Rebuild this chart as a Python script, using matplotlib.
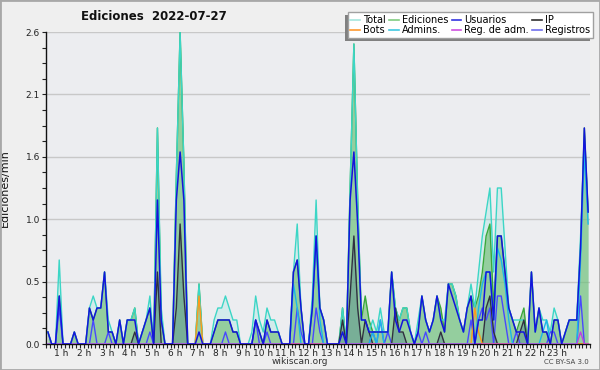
import numpy as np
import matplotlib
matplotlib.use('Agg')
import matplotlib.pyplot as plt
from matplotlib.lines import Line2D
from matplotlib.patches import Rectangle

# 10-minute bins, edits per minute
total = [0.1, 0, 0, 0.7, 0, 0, 0, 0.1, 0, 0, 0, 0.3,
         0.4, 0.3, 0.3, 0.6, 0.2, 0.1, 0, 0.2, 0, 0.2, 0.2, 0.3,
         0, 0.1, 0.2, 0.4, 0, 1.8, 0.3, 0, 0, 0, 1.4, 2.6,
         1.5, 0, 0, 0, 0.5, 0, 0, 0, 0.2, 0.3, 0.3, 0.4,
         0.3, 0.2, 0.2, 0, 0, 0, 0.1, 0.4, 0.2, 0.1, 0.3, 0.2,
         0.2, 0.1, 0, 0, 0, 0.6, 1.0, 0.3, 0, 0, 0.4, 1.2,
         0.3, 0.2, 0, 0, 0, 0, 0.3, 0, 1.3, 2.5, 1.2, 0.2,
         0.2, 0.1, 0.2, 0.1, 0.3, 0.1, 0.1, 0.6, 0.3, 0.2, 0.3, 0.3,
         0.1, 0, 0.2, 0.4, 0.2, 0.1, 0.2, 0.4, 0.2, 0.2, 0.5, 0.5,
         0.4, 0.2, 0.1, 0.3, 0.5, 0.3, 0.6, 0.9, 1.1, 1.3, 0.6, 1.3,
         1.3, 0.8, 0.3, 0.2, 0.2, 0.2, 0.2, 0, 0.6, 0.1, 0.3, 0.2,
         0.2, 0.1, 0.3, 0.2, 0, 0.1, 0.2, 0.2, 0.2, 0.9, 1.7, 1.1]

ediciones = [0.1, 0, 0, 0.4, 0, 0, 0, 0.1, 0, 0, 0, 0.3,
             0.2, 0.3, 0.3, 0.6, 0.1, 0.1, 0, 0.2, 0, 0.2, 0.2, 0.3,
             0, 0.1, 0.2, 0.3, 0, 1.8, 0.2, 0, 0, 0, 1.4, 2.6,
             1.5, 0, 0, 0, 0.5, 0, 0, 0, 0.1, 0.2, 0.2, 0.2,
             0.2, 0.1, 0.1, 0, 0, 0, 0, 0.2, 0.1, 0, 0.2, 0.1,
             0.1, 0.1, 0, 0, 0, 0.6, 0.7, 0.3, 0, 0, 0.3, 0.9,
             0.3, 0.2, 0, 0, 0, 0, 0.3, 0, 1.3, 2.5, 1.2, 0.2,
             0.4, 0.2, 0.1, 0.1, 0.1, 0.1, 0.1, 0.6, 0.3, 0.2, 0.3, 0.3,
             0.1, 0, 0.1, 0.4, 0.2, 0.1, 0.2, 0.4, 0.3, 0.1, 0.5, 0.5,
             0.4, 0.2, 0.1, 0.3, 0.4, 0.3, 0.4, 0.6, 0.9, 1.0, 0.3, 0.9,
             0.9, 0.6, 0.3, 0.2, 0.1, 0.2, 0.3, 0, 0.6, 0.1, 0.3, 0.1,
             0.1, 0, 0.2, 0.2, 0, 0.1, 0.2, 0.2, 0.2, 0.8, 1.8, 1.1]

usuarios = [0.1, 0, 0, 0.4, 0, 0, 0, 0.1, 0, 0, 0, 0.3,
            0.2, 0.3, 0.3, 0.6, 0.1, 0.1, 0, 0.2, 0, 0.2, 0.2, 0.2,
            0, 0.1, 0.2, 0.3, 0, 1.2, 0.2, 0, 0, 0, 1.2, 1.6,
            1.2, 0, 0, 0, 0.1, 0, 0, 0, 0.1, 0.2, 0.2, 0.2,
            0.2, 0.1, 0.1, 0, 0, 0, 0, 0.2, 0.1, 0, 0.2, 0.1,
            0.1, 0.1, 0, 0, 0, 0.6, 0.7, 0.3, 0, 0, 0.3, 0.9,
            0.3, 0.2, 0, 0, 0, 0, 0.1, 0, 1.2, 1.6, 1.0, 0.2,
            0.2, 0.1, 0.1, 0.1, 0.1, 0.1, 0.1, 0.6, 0.2, 0.1, 0.2, 0.2,
            0.1, 0, 0.1, 0.4, 0.2, 0.1, 0.2, 0.4, 0.2, 0.1, 0.5, 0.4,
            0.3, 0.2, 0.1, 0.3, 0.4, 0, 0.2, 0.2, 0.6, 0.6, 0.2, 0.9,
            0.9, 0.6, 0.3, 0.2, 0.1, 0.1, 0.1, 0, 0.6, 0.1, 0.3, 0.1,
            0.1, 0, 0.2, 0.2, 0, 0.1, 0.2, 0.2, 0.2, 0.8, 1.8, 1.1]

# sparse series: bin index -> value
ip_idx = [23, 29, 34, 35, 36, 78, 80, 81, 82, 84, 85, 92, 93, 94, 104, 116, 117, 118, 125, 126]
ip_val = [0.1, 0.6, 0.3, 1.0, 0.4, 0.2, 0.4, 0.9, 0.3, 0.2, 0.1, 0.3, 0.1, 0.1, 0.1, 0.3, 0.4, 0.1, 0.1, 0.2]

reg_idx = [3, 12, 16, 27, 47, 55, 58, 66, 67, 71, 72, 86, 88, 90, 98, 100, 112, 114, 115, 116,
           117, 119, 120, 121, 124, 133, 134, 141]
reg_val = [0.3, 0.2, 0.1, 0.1, 0.1, 0.2, 0.1, 0.3, 0.1, 0.3, 0.1, 0.1, 0.2, 0.1, 0.1, 0.1, 0.2, 0.2, 0.3, 0.2,
           0.3, 0.4, 0.4, 0.2, 0.1, 0.1, 0.1, 0.4]

adm_idx = [65, 66, 70, 71, 72, 86, 88, 114, 115, 116, 117, 118, 119, 120, 121, 122, 131, 132, 141, 142, 143]
adm_val = [0.5, 0.3, 0.3, 0.9, 0.2, 0.1, 0.2, 0.3, 0.5, 0.6, 0.6, 0.2, 0.8, 0.7, 0.5, 0.2, 0.1, 0.2, 0.7, 1.6, 1.0]

bots_idx = [40, 113, 114]
bots_val = [0.4, 0.3, 0.1]

regadm_idx = [141]
regadm_val = [0.1]

hour_labels = ['%d h' % h for h in range(1, 24)]

n = len(total)
x = np.arange(n) + 0.5


def sparse(idx, val):
    s = np.zeros(n)
    s[idx] = val
    return s


ip = sparse(ip_idx, ip_val)
registros = sparse(reg_idx, reg_val)
admins = sparse(adm_idx, adm_val)
bots = sparse(bots_idx, bots_val)
regadm = sparse(regadm_idx, regadm_val)

plt.rcParams['font.family'] = 'DejaVu Sans'

fig = plt.figure(figsize=(6, 3.7), dpi=100, facecolor='#efefef')
ax = fig.add_axes([46 / 600, 26 / 370, 544 / 600, 312 / 370])
ax.set_facecolor('#ecedf0')

# fills
ax.fill_between(x, 0, total, color='#40e0d0', alpha=0.15, lw=0, zorder=1)
ax.fill_between(x, 0, ediciones, color='#6cbc6c', alpha=0.6, lw=0, zorder=2)
ax.fill_between(x, 0, ip, color='#3a6a8a', alpha=0.3, lw=0, zorder=2)

# lines
ax.plot(x, ediciones, color='#3aa83a', lw=1.0, zorder=3)
ax.plot(x, total, color='#3cd6c6', lw=1.0, zorder=4)
ax.plot(x, registros, color='#4848ff', lw=1.0, zorder=4)
ax.plot(x, ip, color='#303040', lw=1.0, zorder=4)
ax.plot(x, bots, color='#ff9a1a', lw=1.0, zorder=4)
ax.plot(x, admins, color='#1ab8e8', lw=1.0, zorder=5)
ax.plot(x, regadm, color='#c040e0', lw=1.0, zorder=5)
ax.plot(x, usuarios, color='#1414dc', lw=1.1, zorder=6)

ax.set_xlim(0, n)
ax.set_ylim(0, 2.6)

yt = np.linspace(0, 2.6, 6)
ax.set_yticks(yt)
ax.set_yticklabels(['%.1f' % v for v in yt])
ax.set_yticks(np.linspace(0, 2.6, 21), minor=True)
ax.yaxis.grid(True, color='#c8c8c8', lw=1)
ax.set_axisbelow(True)

ax.set_xticks(np.arange(6, n, 6))
ax.set_xticklabels(hour_labels, ha='right')
ax.set_xticks(np.arange(0, n + 1, 1), minor=True)

ax.tick_params(axis='both', which='both', direction='out', length=2.8, width=0.8,
               colors='#222222', labelsize=6.5)
ax.tick_params(axis='x', which='major', pad=0.5)
ax.tick_params(axis='y', which='major', pad=1.5)

for s in ['top', 'right']:
    ax.spines[s].set_visible(False)
for s in ['left', 'bottom']:
    ax.spines[s].set_color('#111111')
    ax.spines[s].set_linewidth(1)

ax.set_ylabel('Ediciones/min', fontsize=8, color='#111111')
ax.yaxis.set_label_coords(-0.066, 0.5)

fig.text(154 / 600, 1 - 16 / 370, 'Ediciones  2022-07-27', ha='center', va='center',
         fontsize=8.5, fontweight='bold', color='#111111')
fig.text(0.5, 1 - 362 / 370, 'wikiscan.org', ha='center', va='center', fontsize=6.5, color='#333333')
fig.text(589 / 600, 1 - 362 / 370, 'CC BY-SA 3.0', ha='right', va='center', fontsize=5, color='#444444')

handles = [
    Line2D([], [], color='#a6e6de', lw=1.2),
    Line2D([], [], color='#ff9a30', lw=1.2),
    Line2D([], [], color='#80cc80', lw=1.2),
    Line2D([], [], color='#40c8e0', lw=1.2),
    Line2D([], [], color='#3434e0', lw=1.2),
    Line2D([], [], color='#d050e0', lw=1.2),
    Line2D([], [], color='#303030', lw=1.2),
    Line2D([], [], color='#7070ee', lw=1.2),
]
labels = ['Total', 'Bots', 'Ediciones', 'Admins.', 'Usuarios', 'Reg. de adm.', 'IP', 'Registros']
leg = fig.legend(handles, labels, ncol=4, loc='upper right',
                 bbox_to_anchor=(593 / 600, 1 - 12 / 370), bbox_transform=fig.transFigure,
                 fontsize=7, frameon=True, fancybox=False, framealpha=1,
                 facecolor='white', edgecolor='#a0a0a0', borderpad=0.3,
                 labelspacing=0.05, handlelength=1.0, handletextpad=0.3,
                 columnspacing=0.35, borderaxespad=0)
leg.get_frame().set_linewidth(1)

fig.canvas.draw()
bb = leg.get_window_extent().transformed(fig.transFigure.inverted())
fig.patches.append(Rectangle((bb.x0 - 3 / 600, bb.y0 - 3 / 370), bb.width, bb.height,
                             transform=fig.transFigure, facecolor='#808080',
                             edgecolor='none', zorder=1))

fig.patches.append(Rectangle((0, 0), 1, 1, transform=fig.transFigure, fill=False,
                             edgecolor='#a8a8a8', lw=2, zorder=10))

fig.savefig('out.png', dpi=100, facecolor=fig.get_facecolor())
plt.close()
